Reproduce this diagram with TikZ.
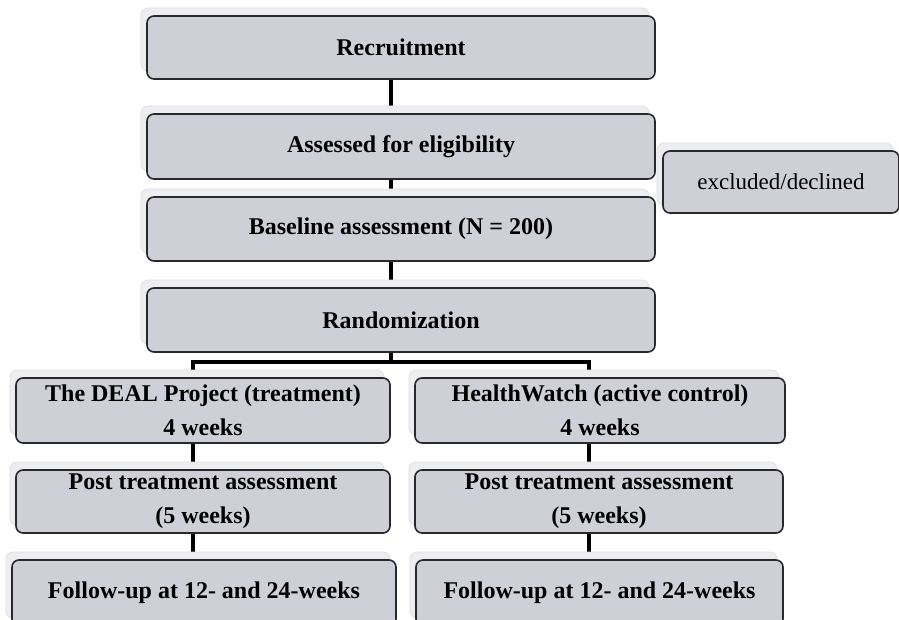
\documentclass[tikz,border=0pt]{standalone}
\usepackage{fontspec}
\setmainfont{Liberation Serif}
\usetikzlibrary{shadows}
\pgfdeclarelayer{bg}
\pgfsetlayers{bg,main}
\definecolor{boxfill}{RGB}{207,207,216}
\definecolor{boxline}{RGB}{40,40,45}
\definecolor{shfill}{RGB}{238,238,241}
\definecolor{shline}{RGB}{222,222,228}
\begin{document}
\begin{tikzpicture}[x=1pt,y=-1pt,
  box/.style={draw=boxline, line width=1.6pt, fill=boxfill, rounded corners=7pt,
    inner sep=0pt, align=center, font=\fontsize{24}{34}\selectfont\bfseries,
    general shadow={fill=shfill, draw=shline, line width=0.8pt, shadow xshift=-6pt, shadow yshift=8pt}},
  plainbox/.style={box, font=\fontsize{23}{30}\selectfont},
  link/.style={line width=3.6pt, draw=black, line join=miter}]
\path[use as bounding box] (0,0) rectangle (899,620);
\clip (0,0) rectangle (899,620);

\coordinate (spine) at (391,0);
\coordinate (lx) at (193,0);
\coordinate (rx) at (589,0);
\coordinate (brY) at (0,362);

\node[box, minimum width=508pt, minimum height=63pt] (rec) at (401,47.5) {Recruitment};
\node[box, minimum width=508pt, minimum height=65pt] (ass) at (401,146.5) {Assessed for eligibility};
\node[plainbox, minimum width=236pt, minimum height=62pt] (exc) at (781,182) {excluded/declined};
\node[box, minimum width=508pt, minimum height=64pt] (base) at (401,229) {Baseline assessment (N = 200)};
\node[box, minimum width=508pt, minimum height=64pt] (rand) at (401,320) {Randomization};

\node[box, minimum width=374pt, minimum height=65pt] (deal) at (203,410.5) {The DEAL Project (treatment)\\4 weeks};
\node[box, minimum width=370pt, minimum height=65pt] (hw) at (600,410.5) {HealthWatch (active control)\\4 weeks};
\node[box, minimum width=374pt, minimum height=63pt] (postl) at (203,501.5) {Post treatment assessment\\(5 weeks)};
\node[box, minimum width=368pt, minimum height=63pt] (postr) at (599,501.5) {Post treatment assessment\\(5 weeks)};
\node[box, minimum width=384pt, minimum height=66pt] (foll) at (204,593) {Follow-up at 12- and 24-weeks};
\node[box, minimum width=367pt, minimum height=66pt] (folr) at (599.5,593) {Follow-up at 12- and 24-weeks};

\begin{pgfonlayer}{bg}
\draw[link] (rec.south -| spine) -- (ass.north -| spine);
\draw[link] (ass.south -| spine) -- (base.north -| spine);
\draw[link] (base.south -| spine) -- (rand.north -| spine);
\draw[link] (rand.south -| spine) -- (spine |- brY);
\draw[link] (deal.north -| lx) -- (lx |- brY) -- (rx |- brY) -- (hw.north -| rx);
\draw[link] (deal.south -| lx) -- (postl.north -| lx);
\draw[link] (postl.south -| lx) -- (foll.north -| lx);
\draw[link] (hw.south -| rx) -- (postr.north -| rx);
\draw[link] (postr.south -| rx) -- (folr.north -| rx);
\end{pgfonlayer}
\end{tikzpicture}
\end{document}
